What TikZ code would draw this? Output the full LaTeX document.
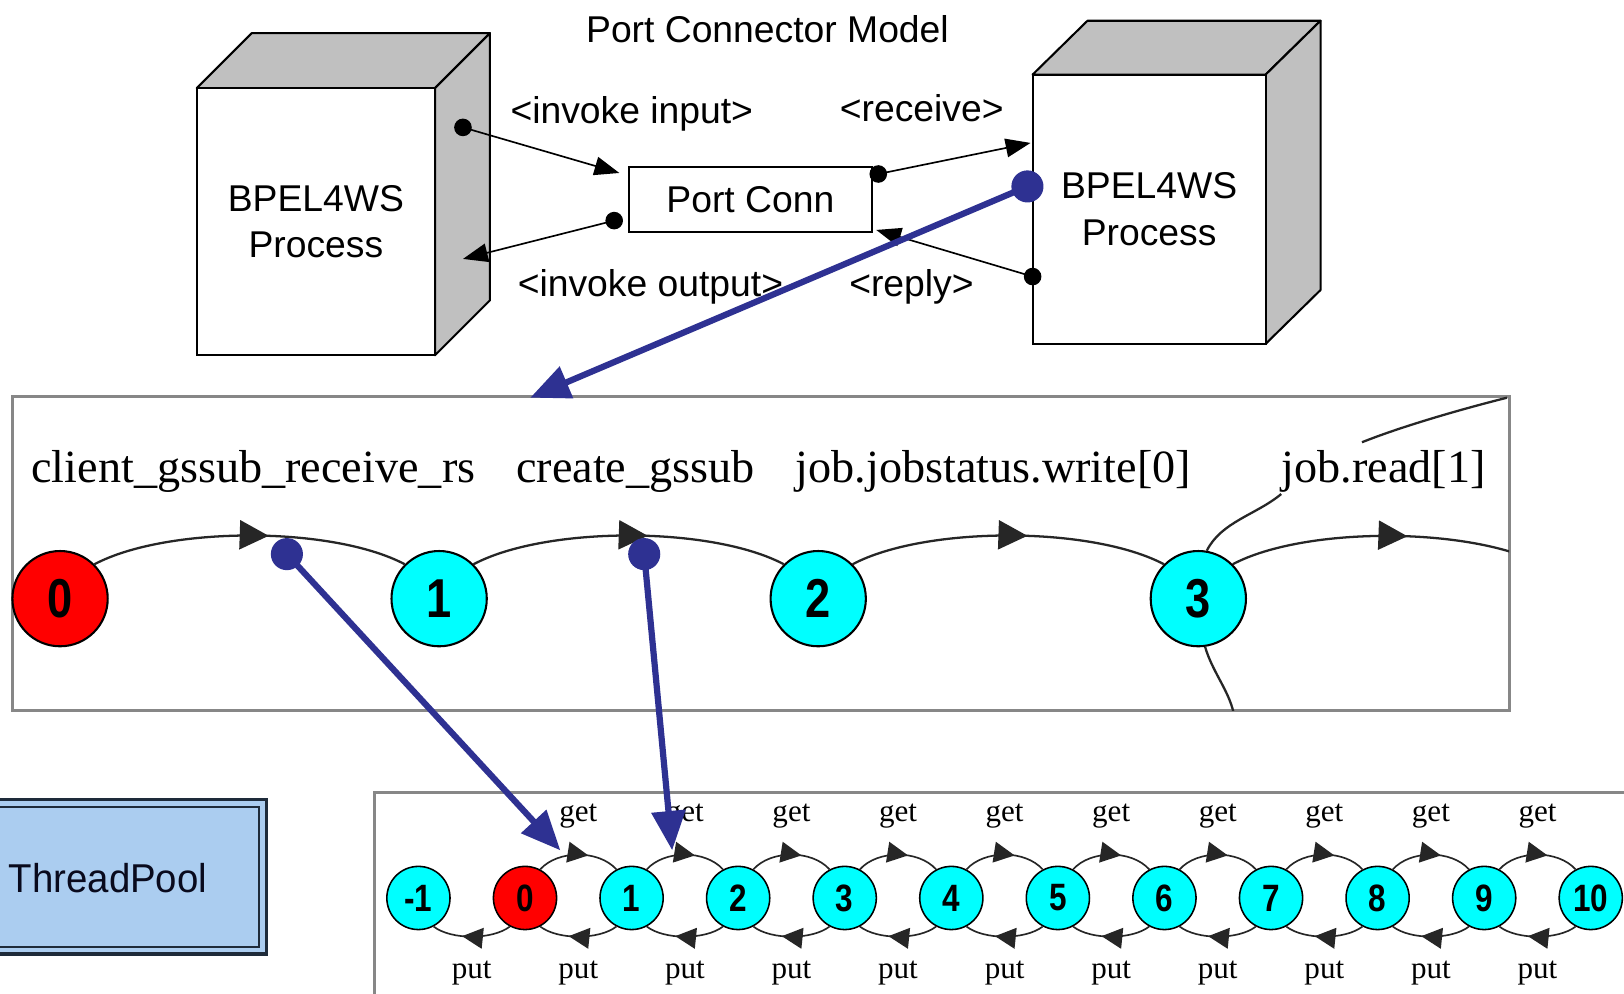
\documentclass[tikz,border=0pt]{standalone}
\usepackage{fontspec}
\setmainfont{Liberation Serif}
\setsansfont{Liberation Sans}
\usetikzlibrary{arrows.meta,decorations.markings,calc,shapes.geometric}

\definecolor{navy}{HTML}{2E3192}
\definecolor{panelgray}{HTML}{878787}
\definecolor{facegray}{HTML}{C0C0C0}
\definecolor{statecyan}{HTML}{00FFFF}
\definecolor{statered}{HTML}{FF0000}
\definecolor{poolblue}{HTML}{ABCDF0}
\definecolor{pooledge}{HTML}{1E2B3A}

\tikzset{
  sanslbl/.style={font=\sffamily\fontsize{18}{22.5}\selectfont, inner sep=0pt},
  actlbl/.style={font=\fontsize{22.3}{24}\selectfont, inner sep=0pt, anchor=base west},
  smalllbl/.style={font=\fontsize{15}{17}\selectfont, inner sep=0pt, anchor=base},
  facebox/.style={draw=black, line width=1pt, fill=facegray, line join=round},
  frontbox/.style={draw=black, line width=1pt, fill=white, inner sep=0pt, align=center,
     font=\sffamily\fontsize{18}{22.5}\selectfont},
  portdot/.style={circle, fill=black, inner sep=0pt, minimum size=8.5pt},
  bluedot/.style={circle, fill=navy, inner sep=0pt, minimum size=15.5pt},
  flow/.style={draw=black, line width=0.8pt, -{Triangle[length=12pt,width=9pt]}},
  bluelink/.style={draw=navy, line width=3pt, -{Triangle[length=19pt,width=16pt]}},
  bigstate/.style={circle, draw=black, line width=1pt, minimum size=46pt, inner sep=0pt,
     font=\sffamily\bfseries\fontsize{23}{23}\selectfont},
  smallstate/.style={circle, draw=black, line width=0.75pt, minimum size=30.5pt,
     inner sep=0pt, font=\sffamily\bfseries\fontsize{16}{16}\selectfont},
  midtip/.style={postaction={decorate}, decoration={markings,
     mark=at position #1 with {\arrow{Triangle[length=\tiplen,width=\tiplen]}}}},
  arcline/.style={draw=black!85, line width=1.1pt},
  chainline/.style={draw=black!85, line width=0.8pt},
  panel/.style={draw=panelgray, line width=1.5pt},
}
\newcommand{\tiplen}{14pt}
\newcommand{\tall}[1]{\scalebox{0.95}[1.15]{#1}}

\begin{document}
\begin{tikzpicture}[x=0.5pt,y=-0.5pt]
\useasboundingbox (0,0) rectangle (1568,959);
\fill[white] (0,0) rectangle (1568,959);

% ---------------- port connector model ----------------
\node[sanslbl] (title) at (741,28) {Port Connector Model};

% left process block
\filldraw[facebox] (190,85) -- (243,32) -- (473,32) -- (420,85) -- cycle;
\filldraw[facebox] (420,85) -- (473,32) -- (473,290) -- (420,343) -- cycle;
\node[frontbox, minimum width=115pt, minimum height=129pt] (lproc) at (305,214) {BPEL4WS\\Process};

% right process block
\filldraw[facebox] (997,72) -- (1050,20) -- (1275,20) -- (1222,72) -- cycle;
\filldraw[facebox] (1222,72) -- (1275,20) -- (1275,280) -- (1222,332) -- cycle;
\node[frontbox, minimum width=112.5pt, minimum height=130pt] (rproc) at (1109.5,202) {BPEL4WS\\Process};

% connector
\node[frontbox, minimum width=117.5pt, minimum height=31.5pt] (pconn) at (724.5,192.5) {Port Conn};

% message flows
\node[portdot] (d1) at (447,123) {};
\coordinate (t1) at (598,167);
\draw[flow] (d1.center) -- (t1);

\node[portdot] (d2) at (593,213) {};
\coordinate (t2) at (447,250);
\draw[flow] (d2.center) -- (t2);

\node[portdot] (d3) at (848,168) {};
\coordinate (t3) at (995,138);
\draw[flow] (d3.center) -- (t3);

\node[portdot] (d4) at (997,267) {};
\coordinate (t4) at (846,222);
\draw[flow] (d4.center) -- (t4);

\node[sanslbl] (l1) at (610,110) {<invoke input>};
\node[sanslbl] (l2) at (890,104) {<receive>};
\node[sanslbl] (l3) at (628,277) {<invoke output>};
\node[sanslbl] (l4) at (880,277) {<reply>};

% ---------------- activity chain ----------------
\draw[panel] (12,383) rectangle (1457,686);

\node[actlbl] (a1) at (30,466) {client\_gssub\_receive\_rs};
\node[actlbl] (a2) at (498,466) {create\_gssub};
\node[actlbl] (a3) at (768,466) {job.jobstatus.write[0]};
\node[actlbl] (a4) at (1237,466) {job.read[1]};

\node[bigstate, fill=statered]  (m0) at (58,578)   {\tall{0}};
\node[bigstate, fill=statecyan] (m1) at (424,578)  {\tall{1}};
\node[bigstate, fill=statecyan] (m2) at (790,578)  {\tall{2}};
\node[bigstate, fill=statecyan] (m3) at (1157,578) {\tall{3}};

\begin{scope}
  \clip (12,383) rectangle (1457,686);
  \coordinate (m4w) at (1490.5,545.5);
  \draw[arcline, midtip=0.56] (m0.45) .. controls +(70,-37) and +(-70,-37) .. (m1.135);
  \draw[arcline, midtip=0.56] (m1.45) .. controls +(70,-37) and +(-70,-37) .. (m2.135);
  \draw[arcline, midtip=0.56] (m2.45) .. controls +(70,-37) and +(-70,-37) .. (m3.135);
  \draw[arcline, midtip=0.56] (m3.45) .. controls +(70,-37) and +(-70,-37) .. (m4w);
  \coordinate (up1) at (1237,477);
  \coordinate (up2) at (1315,427);
  \coordinate (up3) at (1455,384);
  \coordinate (dn1) at (1191,688);
  \draw[arcline] (m3.80) .. controls +(14,-28) and +(-24,20) .. (up1);
  \draw[arcline] (up2) .. controls +(40,-16) and +(-40,10) .. (up3);
  \draw[arcline] (m3.-82) .. controls +(7,24) and +(-5,-22) .. (dn1);
\end{scope}

% ---------------- thread pool ----------------
\filldraw[fill=poolblue, draw=pooledge, line width=1.6pt] (-10,772) rectangle (257,921);
\draw[pooledge, line width=1.1pt] (-10,779) rectangle (250,914);
\node[sanslbl, anchor=west, text=black!80!navy] (pool) at (8,848) {\scalebox{1.03}[1.08]{ThreadPool}};

% ---------------- pool state chain ----------------
\draw[panel] (362,1000) -- (362,765) -- (1600,765);

\foreach \k in {0,...,11}{
  \pgfmathsetmacro{\bx}{404+102.9*\k}
  \pgfmathtruncatemacro{\lab}{\k-1}
  \ifnum\k=1 \def\scol{statered}\else\def\scol{statecyan}\fi
  \node[smallstate, fill=\scol] (b\k) at (\bx,867) {\tall{\lab}};
}

\renewcommand{\tiplen}{10pt}
\foreach \k [evaluate=\k as \n using int(\k+1)] in {1,...,10}{
  \draw[chainline, midtip=0.62] (b\k.62) .. controls +(17,-19) and +(-17,-19) .. (b\n.118);
  \node[smalllbl] (g\k) at ($(b\k)!0.5!(b\n)+(0,-74)$) {get};
}
\foreach \k [evaluate=\k as \n using int(\k+1)] in {0,...,10}{
  \draw[chainline, midtip=0.62] (b\n.-118) .. controls +(-17,13) and +(17,13) .. (b\k.-62);
  \node[smalllbl] (p\k) at ($(b\k)!0.5!(b\n)+(0,78)$) {put};
}

% ---------------- mapping links ----------------
\node[bluedot] (bd1) at (992,180) {};
\coordinate (bt1) at (512,384);
\draw[bluelink] (bd1.center) -- (bt1);

\node[bluedot] (bd2) at (277,535) {};
\coordinate (bt2) at (541,821);
\draw[bluelink] (bd2.center) -- (bt2);

\node[bluedot] (bd3) at (622,535) {};
\coordinate (bt3) at (649,821);
\draw[bluelink] (bd3.center) -- (bt3);
\end{tikzpicture}
\end{document}
